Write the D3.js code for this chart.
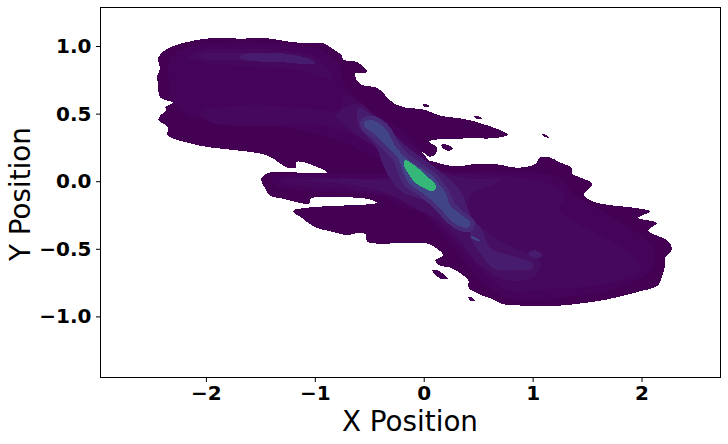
<!DOCTYPE html>
<html><head><meta charset="utf-8">
<script src="https://cdnjs.cloudflare.com/ajax/libs/d3/7.8.5/d3.min.js"></script>
<style>html,body{margin:0;padding:0;background:#fff}svg{display:block}</style>
</head><body><svg id="c" width="728" height="444"></svg>
<script>
const xTicks=[-2,-1,0,1,2];
const yTicks=[-1,-0.5,0,0.5,1];
const xDomain=[-2.968,2.725];
const yDomain=[-1.452,1.285];
const xLabel="X Position", yLabel="Y Position";
const bandColors=["#440154","#450459","#46085c","#470f62","#471b6e","#472a78","#414487","#35b779"];

const outer=[[-2.44,.91],[-2.39,.96],[-2.30,1.00],[-2.17,1.03],[-1.99,1.055],[-1.68,1.055],[-1.41,1.055],[-1.22,1.03],[-1.04,1.02],[-.92,1.02],[-.84,.98],[-.75,.93],[-.74,.90],[-.61,.88],[-.52,.81],[-.58,.80],[-.63,.80],[-.61,.74],[-.56,.71],[-.43,.69],[-.31,.60],[-.26,.57],[-.17,.545],[0,.53],[.15,.486],[.43,.45],[.77,.345],[.67,.32],[.36,.316],[.05,.294],[.12,.25],[.11,.205],[.06,.18],[0,.21],[-.05,.24],[-.08,.24],[-.05,.205],[.01,.16],[.12,.14],[.15,.13],[.31,.11],[.45,.125],[.67,.125],[.86,.10],[1.02,.125],[1.07,.175],[1.14,.18],[1.25,.14],[1.36,.095],[1.36,.06],[1.55,-.02],[1.51,-.06],[1.47,-.10],[1.555,-.15],[1.74,-.18],[1.92,-.195],[2.08,-.225],[1.97,-.27],[2.14,-.31],[2.06,-.365],[2.24,-.44],[2.28,-.50],[2.215,-.57],[2.215,-.63],[2.19,-.70],[2.15,-.77],[1.96,-.82],[1.68,-.875],[1.435,-.905],[1.25,-.92],[1.005,-.92],[.73,-.91],[.64,-.875],[.52,-.84],[.41,-.785],[.41,-.735],[.335,-.68],[.245,-.64],[.135,-.62],[.105,-.585],[.18,-.55],[.125,-.50],[.03,-.46],[-.215,-.46],[-.52,-.445],[-.535,-.39],[-.655,-.39],[-.69,-.40],[-.86,-.37],[-1.0,-.34],[-1.105,-.28],[-1.20,-.22],[-1.06,-.195],[-.74,-.18],[-.43,-.16],[-.52,-.13],[-.83,-.12],[-1.04,-.13],[-1.05,-.165],[-1.29,-.13],[-1.41,-.105],[-1.455,-.055],[-1.49,.02],[-1.41,.065],[-1.20,.065],[-.885,.065],[-1.01,.115],[-1.13,.145],[-1.175,.14],[-1.175,.10],[-1.25,.10],[-1.435,.19],[-1.68,.225],[-1.96,.25],[-2.17,.285],[-2.35,.34],[-2.35,.40],[-2.435,.45],[-2.42,.485],[-2.37,.52],[-2.37,.55],[-2.30,.58],[-2.42,.62],[-2.44,.72],[-2.45,.78],[-2.42,.83]];
const island1=[[.16,.27],[.215,.27],[.27,.24],[.225,.225],[.18,.24]];
const island2=[[-.01,.57],[.03,.57],[.05,.55],[.01,.55]];
const island3=[[.46,.485],[.5,.48],[.54,.46],[.49,.46]];
const island4=[[1.08,.35],[1.13,.34],[1.15,.32],[1.11,.33]];
const island5=[[.08,-.66],[.13,-.66],[.22,-.72],[.15,-.72]];
const island6=[[.41,-.86],[.44,-.86],[.47,-.885],[.43,-.885]];

const band1=[[-2.34,.88],[-2.28,.95],[-2.11,1.00],[-1.68,1.02],[-1.32,1.01],[-.98,.98],[-.79,.88],[-.75,.745],[-.65,.635],[-.53,.54],[-.40,.465],[-.26,.41],[-.12,.315],[-.03,.23],[.15,.08],[.43,.065],[1.02,.065],[1.25,.02],[1.39,-.105],[1.71,-.255],[1.99,-.40],[2.12,-.51],[2.08,-.66],[1.85,-.77],[1.435,-.845],[.79,-.87],[.56,-.76],[.38,-.60],[.20,-.42],[.01,-.25],[-.215,-.18],[-.40,-.105],[-.77,-.085],[-1.13,-.07],[-1.36,-.03],[-1.41,.02],[-1.27,.05],[-.77,.05],[-.35,.065],[-.26,.115],[-.49,.19],[-.77,.30],[-1.13,.375],[-1.68,.45],[-2.14,.485],[-2.31,.595],[-2.34,.745]];
const band2Top=[[-2.17,.915],[-2.05,.965],[-1.68,.98],[-1.29,.965],[-.98,.91],[-.83,.765],[-.885,.76],[-1.13,.82],[-1.68,.855],[-2.02,.88]];
const band2Main=[[-.72,.635],[-.54,.56],[-.40,.45],[-.26,.34],[-.105,.265],[.06,.115],[.24,.065],[.70,.04],[1.115,-.01],[1.30,-.105],[1.25,-.215],[1.53,-.365],[1.895,-.53],[1.99,-.65],[1.71,-.755],[1.16,-.795],[.79,-.81],[.61,-.72],[.43,-.57],[.24,-.40],[.01,-.23],[-.26,-.115],[-.77,-.055],[-1.225,-.025],[-1.32,.005],[-1.18,.03],[-.31,.04],[-.235,.115],[-.40,.225],[-.63,.34],[-.90,.41],[-1.50,.41],[-1.96,.435],[-2.05,.51],[-1.68,.56],[-1.13,.545],[-.77,.525]];
const band3Top=[[-2.07,.93],[-1.96,.95],[-1.68,.945],[-1.29,.945],[-1.01,.89],[-1.0,.87],[-1.29,.88],[-1.68,.90],[-1.99,.90]];
const band3Core=[[-1.68,.93],[-1.29,.945],[-1.01,.89],[-1.0,.87],[-1.29,.88],[-1.68,.905]];
const band3Main=[[-.61,.575],[-.47,.50],[-.35,.39],[-.235,.28],[-.105,.225],[-.015,.155],[.15,.065],[.43,.02],[.70,.005],[.43,-.105],[.43,-.255],[.70,-.44],[1.07,-.60],[1.02,-.70],[.79,-.735],[.52,-.625],[.335,-.44],[.15,-.29],[-.08,-.20],[-.35,-.085],[-.77,-.015],[-1.13,.005],[-.77,.02],[-.31,.02],[-.235,.095],[-.35,.225],[-.54,.30],[-.72,.41],[-.81,.485]];
const band4Lower=[[.43,-.31],[.52,-.34],[.61,-.49],[.86,-.565],[1.005,-.61],[.995,-.645],[.82,-.66],[.64,-.645],[.52,-.535],[.43,-.415]];
const band4Small=[[.96,-.535],[1.02,-.51],[1.09,-.55],[1.03,-.57]];
const band4Center=[[-.60,.54],[-.51,.51],[-.31,.375],[-.17,.265],[.015,.155],[.20,.04],[.335,-.07],[.43,-.255],[.56,-.40],[.43,-.38],[.20,-.215],[.015,-.145],[-.215,-.07],[-.35,.08],[-.445,.265],[-.60,.41]];
const ridgeHalo=[[-.58,.45],[-.49,.485],[-.39,.46],[-.30,.39],[-.245,.30],[-.15,.21],[-.02,.13],[.12,.05],[.17,0],[.24,-.08],[.29,-.17],[.39,-.24],[.47,-.30],[.44,-.37],[.34,-.37],[.25,-.33],[.15,-.25],[.08,-.19],[-.04,-.11],[-.18,-.03],[-.24,.07],[-.28,.16],[-.32,.19],[-.41,.265],[-.51,.34],[-.57,.385]];
const band5Ridge=[[-.545,.435],[-.49,.455],[-.42,.435],[-.335,.375],[-.28,.285],[-.19,.19],[-.06,.115],[.08,.04],[.13,-.01],[.20,-.085],[.245,-.18],[.355,-.255],[.43,-.305],[.41,-.34],[.355,-.34],[.27,-.305],[.18,-.23],[.105,-.165],[-.015,-.085],[-.14,-.01],[-.195,.08],[-.235,.17],[-.28,.21],[-.37,.285],[-.47,.36],[-.535,.395]];
const band5Sliver=[[.43,-.40],[.45,-.41],[.52,-.44],[.50,-.445],[.435,-.415]];
const band6Peak=[[-.17,.155],[-.125,.14],[-.05,.095],[.04,.03],[.115,-.04],[.085,-.075],[.015,-.055],[-.08,-.01],[-.14,.055],[-.18,.115]];

const layers=[
 {c:0,rings:[outer,island1,island2,island3,island4,island5,island6]},
 {c:1,rings:[band1]},
 {c:2,rings:[band2Top,band2Main]},
 {c:3,rings:[band3Main,band3Top]},
 {c:4,rings:[band3Core,band4Lower,band4Small,band4Center]},
 {c:5,rings:[ridgeHalo]},
 {c:6,rings:[band5Ridge,band5Sliver]},
 {c:7,rings:[band6Peak]}
];

const L=100.5,R=720.5,T=7.5,B=377.5;
const x=d3.scaleLinear().domain(xDomain).range([L,R]);
const y=d3.scaleLinear().domain(yDomain).range([B,T]);
const svg=d3.select("#c");
const line=d3.line().x(d=>x(d[0])).y(d=>y(d[1])).curve(d3.curveCatmullRomClosed.alpha(0.5));

svg.append("g").selectAll("path").data(layers.flatMap(l=>l.rings.map(r=>({r,c:l.c})))).join("path")
  .attr("d",d=>line(d.r)).attr("fill",d=>bandColors[d.c]).attr("stroke","none").attr("shape-rendering","crispEdges");

svg.append("rect").attr("x",L).attr("y",T).attr("width",R-L).attr("height",B-T).attr("fill","none").attr("stroke","#000").attr("stroke-width",1);

const fmtY=d3.format(".1f");
const minus=s=>String(s).replace("-","\u2212");
const gx=svg.append("g").attr("transform",`translate(0,${B})`).call(d3.axisBottom(x).tickValues(xTicks).tickSizeOuter(0).tickSize(4.5).tickPadding(3.5).tickFormat(d=>minus(d)));
const gy=svg.append("g").attr("transform",`translate(${L},0)`).call(d3.axisLeft(y).tickValues(yTicks).tickSizeOuter(0).tickSize(4.5).tickPadding(4.5).tickFormat(d=>minus(fmtY(d))));
[gx,gy].forEach(g=>{g.select(".domain").remove();
 g.selectAll("line").attr("stroke","#000").attr("stroke-width",1);
 g.selectAll("text").attr("fill","#000").style("font-family","'DejaVu Sans'").style("font-weight","bold").style("font-size","20px");});

svg.append("text").attr("x",410).attr("y",431).attr("text-anchor","middle").style("font-family","'DejaVu Sans'").style("font-size","27.78px").text(xLabel);
svg.append("text").attr("transform","translate(30,194) rotate(-90)").attr("text-anchor","middle").style("font-family","'DejaVu Sans'").style("font-size","27.78px").text(yLabel);
</script></body></html>
